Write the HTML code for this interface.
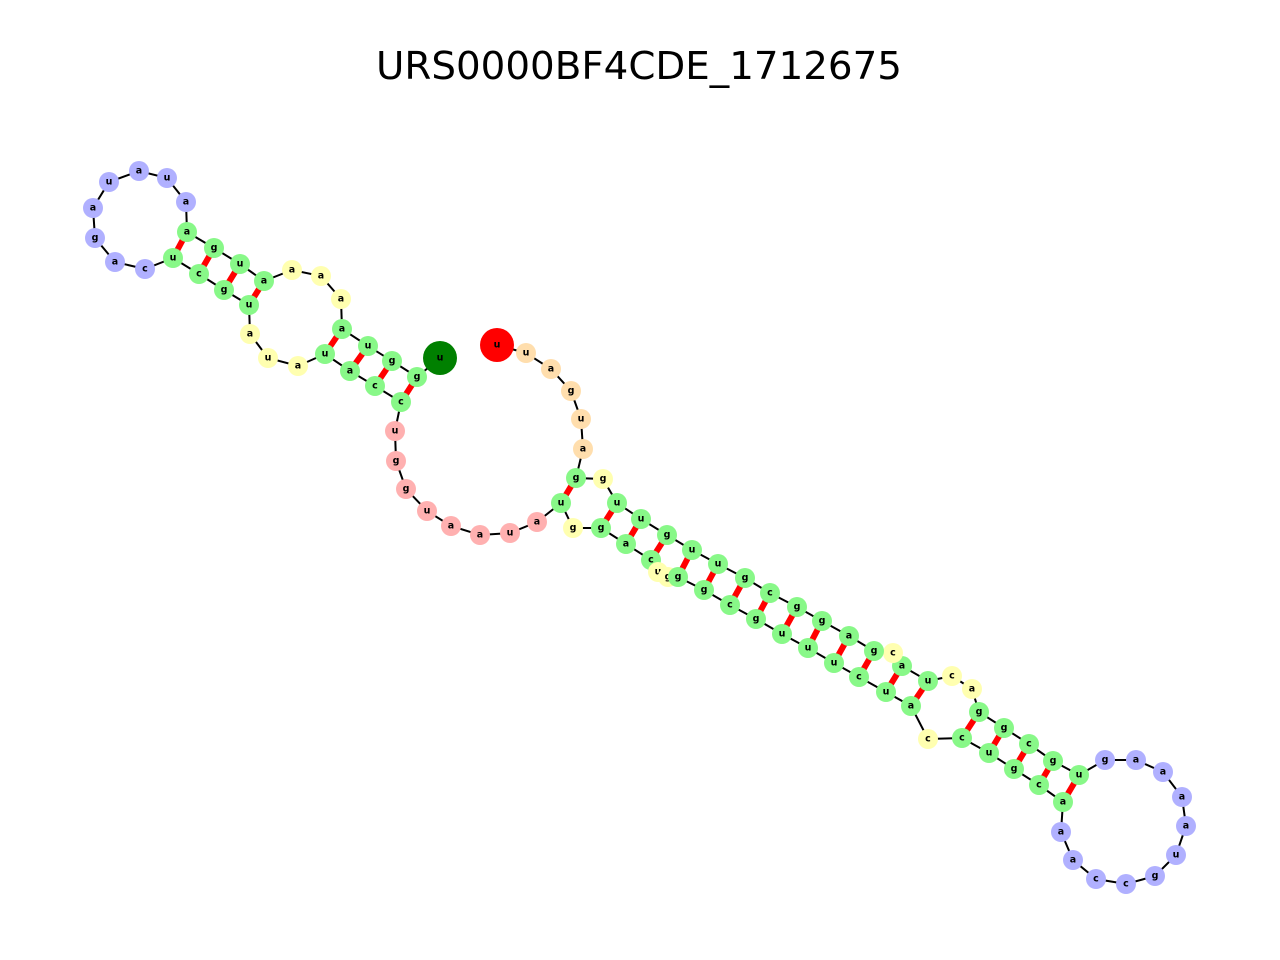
<!DOCTYPE html>
<html><head><meta charset="utf-8"><style>
html,body{margin:0;padding:0;background:#fff;width:1280px;height:960px;overflow:hidden}
svg text{font-family:"DejaVu Sans","Liberation Sans",sans-serif}
.n text{font-size:9.5px;font-weight:bold;text-anchor:middle;dominant-baseline:central;fill:#000}
</style></head><body>
<svg width="1280" height="960" viewBox="0 0 1280 960" xmlns="http://www.w3.org/2000/svg">
<text x="639" y="66" font-size="38" text-anchor="middle" dominant-baseline="central" fill="#000" textLength="526" lengthAdjust="spacingAndGlyphs">URS0000BF4CDE_1712675</text>
<g stroke="#f00" stroke-width="6">
<line x1="187" y1="232" x2="173" y2="258"/><line x1="214" y1="248" x2="199" y2="274"/><line x1="240" y1="264" x2="224" y2="290"/><line x1="264" y1="281" x2="249" y2="305"/>
<line x1="342" y1="329" x2="325" y2="354"/><line x1="368" y1="346" x2="350" y2="371"/><line x1="392" y1="361" x2="375" y2="386"/><line x1="417" y1="377" x2="401" y2="402"/>
<line x1="576" y1="478" x2="561" y2="503"/><line x1="617" y1="503" x2="601" y2="528"/><line x1="641" y1="519" x2="626" y2="544"/><line x1="667" y1="535" x2="651" y2="560"/>
<line x1="692" y1="550" x2="678" y2="577"/><line x1="718" y1="564" x2="704" y2="590"/><line x1="745" y1="578" x2="730" y2="605"/><line x1="770" y1="593" x2="756" y2="619"/>
<line x1="797" y1="607" x2="782" y2="634"/><line x1="822" y1="621" x2="808" y2="648"/><line x1="849" y1="636" x2="834" y2="663"/><line x1="874" y1="651" x2="859" y2="677"/>
<line x1="902" y1="666" x2="886" y2="692"/><line x1="928" y1="681" x2="911" y2="706"/><line x1="979" y1="712" x2="962" y2="738"/><line x1="1004" y1="728" x2="989" y2="753"/>
<line x1="1029" y1="744" x2="1014" y2="769"/><line x1="1053" y1="761" x2="1039" y2="785"/><line x1="1079" y1="775" x2="1063" y2="802"/>
</g>
<polyline fill="none" stroke="#000" stroke-width="2" points="440,358 417,377 392,361 368,346 342,329 341,299 321,276 292,270 264,281 240,264 214,248 187,232 186,202 167,178 139,171 109,182 93,208 95,238 115,262 145,269 173,258 199,274 224,290 249,305 250,334 268,358 298,366 325,354 350,371 375,386 401,402 395,431 396,461 406,489 427,511 451,526 480,535 510,533 537,522 561,503 573,528 601,528 626,544 651,560 658,572 668,577 678,577 704,590 730,605 756,619 782,634 808,648 834,663 859,677 886,692 911,706 928,739 962,738 989,753 1014,769 1039,785 1063,802 1061,832 1073,860 1096,879 1126,884 1155,876 1176,855 1186,826 1182,797 1163,772 1136,760 1105,760 1079,775 1053,761 1029,744 1004,728 979,712 972,689 952,676 928,681 902,666 893,653 874,651 849,636 822,621 797,607 770,593 745,578 718,564 692,550 667,535 641,519 617,503 603,479 576,478 583,449 581,419 571,391 551,369 526,353 497,345"/>
<g class="n">
<circle cx="440" cy="358" r="17" fill="#008000"/><text x="440" y="358">u</text>
<circle cx="497" cy="345" r="17" fill="#ff0000"/><text x="497" y="345">u</text>
</g>
<g class="n" fill="#88f888">
<circle cx="417" cy="377" r="10"/><text x="417" y="377">g</text>
<circle cx="392" cy="361" r="10"/><text x="392" y="361">g</text>
<circle cx="368" cy="346" r="10"/><text x="368" y="346">u</text>
<circle cx="342" cy="329" r="10"/><text x="342" y="329">a</text>
<circle cx="264" cy="281" r="10"/><text x="264" y="281">a</text>
<circle cx="240" cy="264" r="10"/><text x="240" y="264">u</text>
<circle cx="214" cy="248" r="10"/><text x="214" y="248">g</text>
<circle cx="187" cy="232" r="10"/><text x="187" y="232">a</text>
<circle cx="173" cy="258" r="10"/><text x="173" y="258">u</text>
<circle cx="199" cy="274" r="10"/><text x="199" y="274">c</text>
<circle cx="224" cy="290" r="10"/><text x="224" y="290">g</text>
<circle cx="249" cy="305" r="10"/><text x="249" y="305">u</text>
<circle cx="325" cy="354" r="10"/><text x="325" y="354">u</text>
<circle cx="350" cy="371" r="10"/><text x="350" y="371">a</text>
<circle cx="375" cy="386" r="10"/><text x="375" y="386">c</text>
<circle cx="401" cy="402" r="10"/><text x="401" y="402">c</text>
<circle cx="561" cy="503" r="10"/><text x="561" y="503">u</text>
<circle cx="601" cy="528" r="10"/><text x="601" y="528">g</text>
<circle cx="626" cy="544" r="10"/><text x="626" y="544">a</text>
<circle cx="651" cy="560" r="10"/><text x="651" y="560">c</text>
</g>
<g class="n" fill="#ffffb0">
<circle cx="573" cy="528" r="10"/><text x="573" y="528">g</text>
<circle cx="658" cy="572" r="10"/><text x="658" y="572">u</text>
<circle cx="668" cy="577" r="10"/><text x="668" y="577">g</text>
</g>
<g class="n" fill="#88f888">
<circle cx="678" cy="577" r="10"/><text x="678" y="577">g</text>
<circle cx="704" cy="590" r="10"/><text x="704" y="590">g</text>
<circle cx="730" cy="605" r="10"/><text x="730" y="605">c</text>
<circle cx="756" cy="619" r="10"/><text x="756" y="619">g</text>
<circle cx="782" cy="634" r="10"/><text x="782" y="634">u</text>
<circle cx="808" cy="648" r="10"/><text x="808" y="648">u</text>
<circle cx="834" cy="663" r="10"/><text x="834" y="663">u</text>
<circle cx="859" cy="677" r="10"/><text x="859" y="677">c</text>
<circle cx="886" cy="692" r="10"/><text x="886" y="692">u</text>
<circle cx="911" cy="706" r="10"/><text x="911" y="706">a</text>
<circle cx="962" cy="738" r="10"/><text x="962" y="738">c</text>
<circle cx="989" cy="753" r="10"/><text x="989" y="753">u</text>
<circle cx="1014" cy="769" r="10"/><text x="1014" y="769">g</text>
<circle cx="1039" cy="785" r="10"/><text x="1039" y="785">c</text>
<circle cx="1063" cy="802" r="10"/><text x="1063" y="802">a</text>
<circle cx="1079" cy="775" r="10"/><text x="1079" y="775">u</text>
<circle cx="1053" cy="761" r="10"/><text x="1053" y="761">g</text>
<circle cx="1029" cy="744" r="10"/><text x="1029" y="744">c</text>
<circle cx="1004" cy="728" r="10"/><text x="1004" y="728">g</text>
<circle cx="979" cy="712" r="10"/><text x="979" y="712">g</text>
<circle cx="928" cy="681" r="10"/><text x="928" y="681">u</text>
<circle cx="902" cy="666" r="10"/><text x="902" y="666">a</text>
</g>
<g class="n" fill="#ffffb0">
<circle cx="893" cy="653" r="10"/><text x="893" y="653">c</text>
</g>
<g class="n" fill="#88f888">
<circle cx="874" cy="651" r="10"/><text x="874" y="651">g</text>
<circle cx="849" cy="636" r="10"/><text x="849" y="636">a</text>
<circle cx="822" cy="621" r="10"/><text x="822" y="621">g</text>
<circle cx="797" cy="607" r="10"/><text x="797" y="607">g</text>
<circle cx="770" cy="593" r="10"/><text x="770" y="593">c</text>
<circle cx="745" cy="578" r="10"/><text x="745" y="578">g</text>
<circle cx="718" cy="564" r="10"/><text x="718" y="564">u</text>
<circle cx="692" cy="550" r="10"/><text x="692" y="550">u</text>
<circle cx="667" cy="535" r="10"/><text x="667" y="535">g</text>
<circle cx="641" cy="519" r="10"/><text x="641" y="519">u</text>
<circle cx="617" cy="503" r="10"/><text x="617" y="503">u</text>
<circle cx="576" cy="478" r="10"/><text x="576" y="478">g</text>
</g>
<g class="n" fill="#ffffb0">
<circle cx="341" cy="299" r="10"/><text x="341" y="299">a</text>
<circle cx="321" cy="276" r="10"/><text x="321" y="276">a</text>
<circle cx="292" cy="270" r="10"/><text x="292" y="270">a</text>
<circle cx="250" cy="334" r="10"/><text x="250" y="334">a</text>
<circle cx="268" cy="358" r="10"/><text x="268" y="358">u</text>
<circle cx="298" cy="366" r="10"/><text x="298" y="366">a</text>
<circle cx="603" cy="479" r="10"/><text x="603" y="479">g</text>
<circle cx="928" cy="739" r="10"/><text x="928" y="739">c</text>
<circle cx="972" cy="689" r="10"/><text x="972" y="689">a</text>
<circle cx="952" cy="676" r="10"/><text x="952" y="676">c</text>
</g>
<g class="n" fill="#b0b0ff">
<circle cx="186" cy="202" r="10"/><text x="186" y="202">a</text>
<circle cx="167" cy="178" r="10"/><text x="167" y="178">u</text>
<circle cx="139" cy="171" r="10"/><text x="139" y="171">a</text>
<circle cx="109" cy="182" r="10"/><text x="109" y="182">u</text>
<circle cx="93" cy="208" r="10"/><text x="93" y="208">a</text>
<circle cx="95" cy="238" r="10"/><text x="95" y="238">g</text>
<circle cx="115" cy="262" r="10"/><text x="115" y="262">a</text>
<circle cx="145" cy="269" r="10"/><text x="145" y="269">c</text>
<circle cx="1061" cy="832" r="10"/><text x="1061" y="832">a</text>
<circle cx="1073" cy="860" r="10"/><text x="1073" y="860">a</text>
<circle cx="1096" cy="879" r="10"/><text x="1096" y="879">c</text>
<circle cx="1126" cy="884" r="10"/><text x="1126" y="884">c</text>
<circle cx="1155" cy="876" r="10"/><text x="1155" y="876">g</text>
<circle cx="1176" cy="855" r="10"/><text x="1176" y="855">u</text>
<circle cx="1186" cy="826" r="10"/><text x="1186" y="826">a</text>
<circle cx="1182" cy="797" r="10"/><text x="1182" y="797">a</text>
<circle cx="1163" cy="772" r="10"/><text x="1163" y="772">a</text>
<circle cx="1136" cy="760" r="10"/><text x="1136" y="760">a</text>
<circle cx="1105" cy="760" r="10"/><text x="1105" y="760">g</text>
</g>
<g class="n" fill="#ffb0b0">
<circle cx="395" cy="431" r="10"/><text x="395" y="431">u</text>
<circle cx="396" cy="461" r="10"/><text x="396" y="461">g</text>
<circle cx="406" cy="489" r="10"/><text x="406" y="489">g</text>
<circle cx="427" cy="511" r="10"/><text x="427" y="511">u</text>
<circle cx="451" cy="526" r="10"/><text x="451" y="526">a</text>
<circle cx="480" cy="535" r="10"/><text x="480" y="535">a</text>
<circle cx="510" cy="533" r="10"/><text x="510" y="533">u</text>
<circle cx="537" cy="522" r="10"/><text x="537" y="522">a</text>
</g>
<g class="n" fill="#ffdead">
<circle cx="526" cy="353" r="10"/><text x="526" y="353">u</text>
<circle cx="551" cy="369" r="10"/><text x="551" y="369">a</text>
<circle cx="571" cy="391" r="10"/><text x="571" y="391">g</text>
<circle cx="581" cy="419" r="10"/><text x="581" y="419">u</text>
<circle cx="583" cy="449" r="10"/><text x="583" y="449">a</text>
</g>
</svg>
</body></html>
